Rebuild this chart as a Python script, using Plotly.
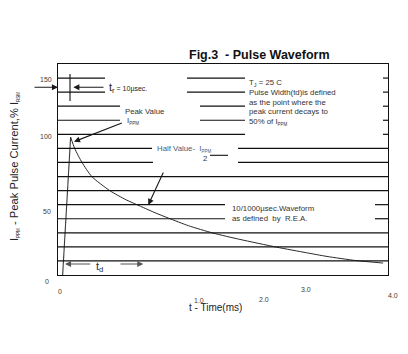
import plotly.graph_objects as go

# ---- data ----
rise_t = [0.0, 0.10]
rise_v = [-2.0, 98.0]
decay_t = [0.10, 0.15, 0.24, 0.36, 0.58, 0.78, 0.96, 1.14, 1.30, 1.55, 1.85, 2.18, 2.63, 3.00, 3.25, 3.60, 3.94]
decay_v = [98.0, 90.0, 80.0, 70.0, 60.0, 53.5, 48.8, 44.2, 40.5, 35.0, 29.8, 25.3, 19.8, 15.8, 13.2, 10.3, 8.5]
grid_levels = [140, 130, 120, 110, 100, 90, 80, 70, 60, 50, 40, 30, 20, 10]
y_tick_labels = ["150", "100", "50", "0"]
x_tick_labels = ["0", "1.0", "2.0", "3.0", "4.0"]

W, H = 408, 354
L, R, T, B = 58, 388, 64, 275
FONT = "Liberation Sans, Arial, sans-serif"


def px(x, y):
    return (x - L) / (R - L), (B - y) / (B - T)


fig = go.Figure()
fig.add_trace(go.Scatter(x=rise_t, y=rise_v, mode="lines",
                         line=dict(color="#3a3a3a", width=1.1), hoverinfo="skip"))
fig.add_trace(go.Scatter(x=decay_t, y=decay_v, mode="lines",
                         line=dict(color="#2a2a2a", width=1, shape="spline", smoothing=0.6),
                         hoverinfo="skip"))

# gridline segments (pixel x extents) -- broken where text sits
seg_map = {
    140: [(58, 105), (187, 245), (383, 388)],
    130: [(58, 105), (187, 245), (383, 388)],
    120: [(58, 120), (200, 245), (383, 388)],
    110: [(58, 120), (200, 245), (383, 388)],
    100: [(58, 245), (383, 388)],
    90: [(58, 152), (238, 388)],
    80: [(58, 153), (238, 388)],
    70: [(58, 388)],
    60: [(58, 388)],
    50: [(58, 225), (375, 388)],
    40: [(58, 225), (375, 388)],
    30: [(58, 388)],
    20: [(58, 388)],
    10: [(58, 388)],
}
shapes = []
for lvl in grid_levels:
    for x0, x1 in seg_map[lvl]:
        shapes.append(dict(type="line", xref="paper", yref="y",
                           x0=(x0 - L) / (R - L), x1=(x1 - L) / (R - L), y0=lvl, y1=lvl,
                           line=dict(color="#111111", width=1.2)))
# fraction bar near "2"
a, b_ = px(210, 155.3), px(228, 155.3)
shapes.append(dict(type="line", xref="paper", yref="paper", x0=a[0], x1=b_[0], y0=a[1], y1=b_[1],
                   line=dict(color="#111111", width=1.1)))
# tr vertical marker
a, b_ = px(70, 74), px(70, 101)
shapes.append(dict(type="line", xref="paper", yref="paper", x0=a[0], x1=b_[0], y0=a[1], y1=b_[1],
                   line=dict(color="#111111", width=1.1)))

ann = []


def text(x, y, s, size=7.8, color="#333333", anchor="left", bold=False, angle=0):
    p = px(x, y)
    ann.append(dict(xref="paper", yref="paper", x=p[0], y=p[1], text=s, showarrow=False,
                    xanchor=anchor, yanchor="middle", textangle=angle,
                    font=dict(family=FONT, size=size, color=color)))


def arrow(tx, ty, sx, sy, color="#1a1a1a", width=1.1):
    p = px(tx, ty)
    ann.append(dict(xref="paper", yref="paper", x=p[0], y=p[1], text="", showarrow=True,
                    ax=sx - tx, ay=sy - ty, arrowhead=2, arrowsize=1.1, arrowwidth=width,
                    arrowcolor=color, standoff=0))


SUB = "<sub><span style='font-size:4.5px'>%s</span></sub>"

# title
text(259, 55, "<b>Fig.3  - Pulse Waveform</b>", size=12.5, color="#111111", anchor="center")

# right text block
text(247, 83.3, "T<sub>J</sub> = 25 C", size=7.8)
text(247, 92.7, "Pulse Width(td)is defined", size=7.8)
text(247, 102.2, "as the point where the", size=7.8)
text(247, 111.8, "peak current decays to", size=7.8)
text(247, 121.5, "50% of I" + SUB % "PPM", size=7.8)

# tr
text(107, 87.5, "t<sub>r</sub><span style='font-size:7px'> = 10µsec.</span>", size=11, color="#222222")
arrow(58, 87.3, 33, 87.3)
arrow(73.3, 87.3, 105, 87.3)

# peak value
text(123, 111.7, "Peak Value", size=7.8)
text(125, 121, "I" + SUB % "PPM", size=7.8)
arrow(74, 141.7, 123.3, 122.3)

# half value
text(155, 149.3, "Half Value-  I" + SUB % "PPM", size=7.8, color="#4a5a78")
text(201, 158, "2", size=7.8, color="#333333")
arrow(148.3, 205, 164, 171)

# waveform label
text(230, 208.3, "10/1000µsec.Waveform", size=7.8)
text(230, 219, "as defined  by  R.E.A.", size=7.8)

# td
text(94, 267, "t<sub>d</sub>", size=11, color="#1f2a44")
arrow(65, 264, 91.7, 264, color="#555555")
arrow(143.3, 264, 119, 264, color="#555555")

# tick labels (as placed in the reference)
for s, (x, y) in zip(y_tick_labels, [(46, 79.5), (45.5, 136), (46.5, 211.5), (46.5, 281)]):
    text(x, y, s, size=7, color="#4a3a2e", anchor="center")
for s, (x, y) in zip(x_tick_labels, [(60, 291), (199, 300), (264, 299), (306, 289), (393, 295)]):
    text(x, y, s, size=7, color="#4a3a2e", anchor="center")

# axis titles
text(215, 307.5, "t - Time(ms)", size=10, color="#222222", anchor="center")
text(14, 167, "I" + SUB % "PPM" + " - Peak Pulse Current,% I" + SUB % "RSM",
     size=11.2, color="#222222", anchor="center", angle=-90)

fig.update_layout(
    width=W, height=H, margin=dict(l=L, r=W - R, t=T, b=H - B),
    paper_bgcolor="white", plot_bgcolor="white", showlegend=False,
    xaxis=dict(range=[-0.055, 4.0], showgrid=False, zeroline=False, showticklabels=False,
               ticks="", showline=True, mirror=True, linecolor="#111111", linewidth=1.2),
    yaxis=dict(range=[0, 150], showgrid=False, zeroline=False, showticklabels=False,
               ticks="", showline=True, mirror=True, linecolor="#111111", linewidth=1.2),
    shapes=shapes, annotations=ann,
)
fig.write_html("out.html")
